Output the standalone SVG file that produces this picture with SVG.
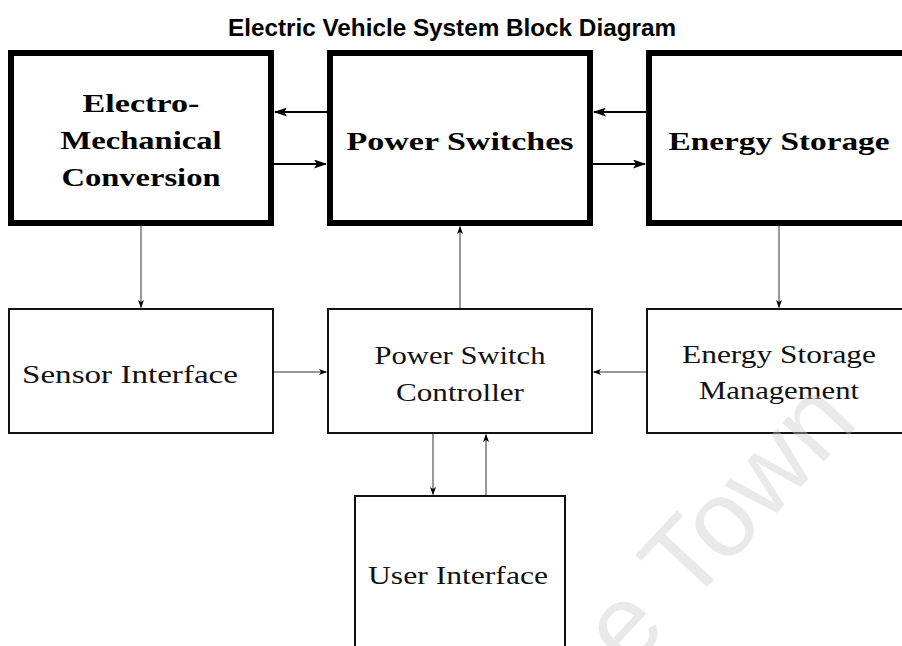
<svg xmlns="http://www.w3.org/2000/svg" width="902" height="646" viewBox="0 0 902 646">
<style>
.big{fill:#fff;stroke:#000;stroke-width:6}
.small{fill:#fff;stroke:#111;stroke-width:2}
.tb{font-family:"Liberation Serif","Times New Roman",serif;font-weight:bold;font-size:26px;text-anchor:middle;fill:#000}
.tr{font-family:"Liberation Serif","Times New Roman",serif;font-size:26px;text-anchor:middle;fill:#111}
.title{font-family:"Liberation Sans",Arial,sans-serif;font-weight:bold;font-size:23px;text-anchor:middle;fill:#000}
.thick{stroke:#000;stroke-width:2;fill:none}
.thin{stroke:#333;stroke-width:1;fill:none}
.wm{font-family:"Liberation Sans",Arial,sans-serif;font-size:108px;fill:#c8c8c8;fill-opacity:0.4}
</style>
<defs>
<marker id="ah" markerUnits="userSpaceOnUse" markerWidth="13" markerHeight="9" refX="12" refY="4.5" orient="auto">
<path d="M0,0 L13,4.5 L0,9 L3,4.5 z" fill="#000"/>
</marker>
<marker id="as" markerUnits="userSpaceOnUse" markerWidth="8" markerHeight="6" refX="7.5" refY="3" orient="auto">
<path d="M0,0 L8,3 L0,6 L2,3 z" fill="#000"/>
</marker>
</defs>
<rect width="902" height="646" fill="#fff"/>
<text class="title" x="452" y="36" textLength="448" lengthAdjust="spacingAndGlyphs">Electric Vehicle System Block Diagram</text>
<g id="emc">
<rect class="big" x="11" y="53" width="260" height="170"/>
<text class="tb" x="141" y="112" textLength="117" lengthAdjust="spacingAndGlyphs">Electro-</text>
<text class="tb" x="141" y="149" textLength="161" lengthAdjust="spacingAndGlyphs">Mechanical</text>
<text class="tb" x="141" y="186" textLength="159" lengthAdjust="spacingAndGlyphs">Conversion</text>
</g>
<g id="ps">
<rect class="big" x="330" y="53" width="260" height="170"/>
<text class="tb" x="460" y="150" textLength="227" lengthAdjust="spacingAndGlyphs">Power Switches</text>
</g>
<g id="es">
<rect class="big" x="649" y="53" width="260" height="170"/>
<text class="tb" x="779" y="150" textLength="221" lengthAdjust="spacingAndGlyphs">Energy Storage</text>
</g>
<g id="si">
<rect class="small" x="9" y="309" width="264" height="124"/>
<text class="tr" x="130" y="383" textLength="216" lengthAdjust="spacingAndGlyphs">Sensor Interface</text>
</g>
<g id="psc">
<rect class="small" x="328" y="309" width="264" height="124"/>
<text class="tr" x="460" y="364" textLength="171" lengthAdjust="spacingAndGlyphs">Power Switch</text>
<text class="tr" x="460" y="401" textLength="128" lengthAdjust="spacingAndGlyphs">Controller</text>
</g>
<g id="esm">
<rect class="small" x="647" y="309" width="264" height="124"/>
<text class="tr" x="779" y="363" textLength="194" lengthAdjust="spacingAndGlyphs">Energy Storage</text>
<text class="tr" x="779" y="399" textLength="160" lengthAdjust="spacingAndGlyphs">Management</text>
</g>
<g id="ui">
<rect class="small" x="355" y="496" width="210" height="170"/>
<text class="tr" x="458" y="584" textLength="180" lengthAdjust="spacingAndGlyphs">User Interface</text>
</g>
<g id="connectors">
<line class="thick" x1="327" y1="112" x2="275" y2="112" marker-end="url(#ah)"/>
<line class="thick" x1="274" y1="164" x2="326" y2="164" marker-end="url(#ah)"/>
<line class="thick" x1="646" y1="112" x2="594" y2="112" marker-end="url(#ah)"/>
<line class="thick" x1="593" y1="164" x2="645" y2="164" marker-end="url(#ah)"/>
<line class="thin" x1="141" y1="226" x2="141" y2="307.5" marker-end="url(#as)"/>
<line class="thin" x1="460" y1="308" x2="460" y2="226.5" marker-end="url(#as)"/>
<line class="thin" x1="779" y1="226" x2="779" y2="307.5" marker-end="url(#as)"/>
<line class="thin" x1="274" y1="372" x2="326.5" y2="372" marker-end="url(#as)"/>
<line class="thin" x1="646" y1="372" x2="593.5" y2="372" marker-end="url(#as)"/>
<line class="thin" x1="433" y1="434" x2="433" y2="494.5" marker-end="url(#as)"/>
<line class="thin" x1="486" y1="495" x2="486" y2="434.5" marker-end="url(#as)"/>
</g>
<text class="wm" transform="translate(628,672) rotate(-47)">e Town</text>
</svg>
